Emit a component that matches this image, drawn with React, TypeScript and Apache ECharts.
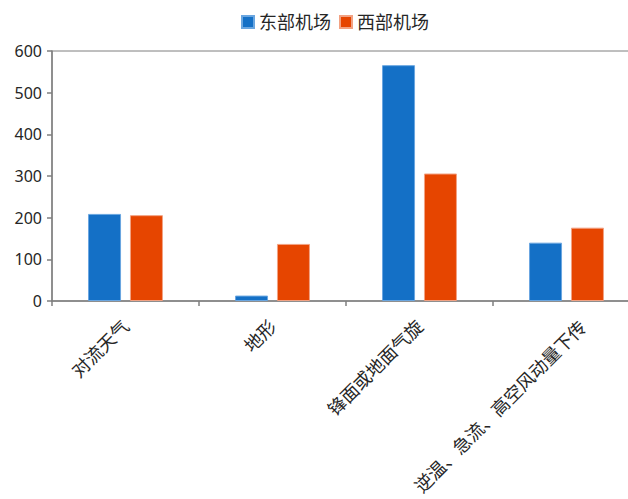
import React, { useEffect, useRef } from "react";
import * as echarts from "echarts";

// Causes of the events, counted for the two airports
const categories = ["对流天气", "地形", "锋面或地面气旋", "逆温、急流、高空风动量下传"];
const eastAirport = [209, 13, 566, 140];
const westAirport = [206, 137, 306, 176];
const seriesNames = ["东部机场", "西部机场"];
const yTicks = { min: 0, max: 600, interval: 100 };

const FONT = '"Noto Sans", "Noto Sans CJK SC", sans-serif';
const AXIS_COLOR = "#7f7f7f";
const LABEL_COLOR = "#262626";

export default function App() {
  const ref = useRef<HTMLDivElement>(null);

  useEffect(() => {
    if (!ref.current) return;
    const chart = echarts.init(ref.current, undefined, { renderer: "svg" });
    chart.setOption({
      animation: false,
      backgroundColor: "#ffffff",
      textStyle: { fontFamily: FONT },
      legend: {
        top: 8,
        left: 236,
        itemWidth: 12,
        itemHeight: 12,
        itemGap: 8,
        icon: "rect",
        textStyle: { fontSize: 18, color: LABEL_COLOR, fontFamily: FONT },
        data: seriesNames,
      },
      grid: {
        left: 52,
        right: 0,
        top: 51,
        bottom: 198,
        show: true,
        borderColor: AXIS_COLOR,
        borderWidth: 1,
        containLabel: false,
        outerBoundsMode: "none",
      },
      xAxis: {
        type: "category",
        data: categories,
        axisLine: { lineStyle: { color: AXIS_COLOR, width: 1.5 } },
        axisTick: { show: true, length: 5, lineStyle: { color: AXIS_COLOR, width: 1.5 } },
        axisLabel: {
          rotate: 45,
          interval: 0,
          margin: 22,
          fontSize: 18,
          color: LABEL_COLOR,
          fontFamily: FONT,
          // the long last label hangs a little to the right of its tick
          formatter: (value: string, index: number) =>
            index === categories.length - 1 ? `{long|${value}}` : value,
          rich: {
            long: {
              fontSize: 18,
              color: LABEL_COLOR,
              fontFamily: FONT,
              padding: [24, -11, 0, 0],
            },
          },
        },
      },
      yAxis: {
        type: "value",
        min: yTicks.min,
        max: yTicks.max,
        interval: yTicks.interval,
        axisLine: { show: true, lineStyle: { color: AXIS_COLOR, width: 1.5 } },
        axisTick: { show: true, length: 5, lineStyle: { color: AXIS_COLOR, width: 1.5 } },
        splitLine: { show: false },
        axisLabel: { fontSize: 16, color: LABEL_COLOR, margin: 10, fontFamily: FONT },
      },
      series: [
        {
          name: seriesNames[0],
          type: "bar",
          data: eastAirport,
          barWidth: 33,
          barGap: "27%",
          itemStyle: { color: "#1470c6", borderColor: "#6aa6e0", borderWidth: 1 },
        },
        {
          name: seriesNames[1],
          type: "bar",
          data: westAirport,
          barWidth: 33,
          itemStyle: { color: "#e64500", borderColor: "#f2a283", borderWidth: 1 },
        },
      ],
    });
    return () => chart.dispose();
  }, []);

  // The plot runs on past the right edge of the visible area
  return (
    <div
      style={{
        position: "fixed",
        left: 0,
        top: 0,
        width: 628,
        height: 499,
        overflow: "hidden",
        background: "#ffffff",
      }}
    >
      <div ref={ref} style={{ width: 640, height: 499 }} />
    </div>
  );
}
